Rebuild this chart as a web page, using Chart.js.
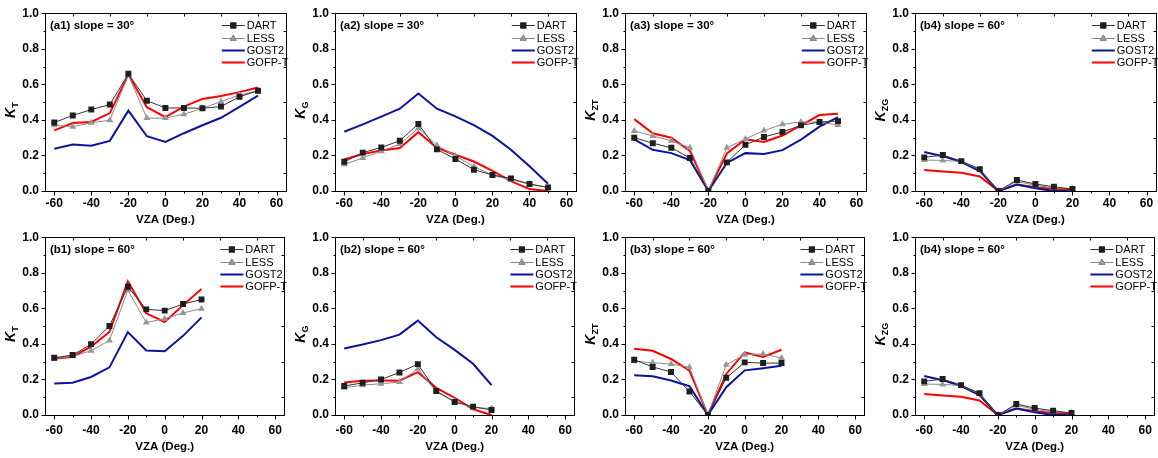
<!DOCTYPE html>
<html>
<head>
<meta charset="utf-8">
<script src="https://cdn.jsdelivr.net/npm/chart.js@4.4.1/dist/chart.umd.min.js"></script>
<style>
    html, body { margin: 0; padding: 0; background: #fff; }
    #wrap { position: relative; width: 1158px; height: 458px; overflow: hidden; }
    #wrap canvas { position: absolute; }
</style>
</head>
<body>
<div id="wrap">
    <canvas id="p1" width="290" height="229" style="left:0px;top:0px"></canvas>
    <canvas id="p2" width="290" height="229" style="left:290px;top:0px"></canvas>
    <canvas id="p3" width="290" height="229" style="left:580px;top:0px"></canvas>
    <canvas id="p4" width="290" height="229" style="left:870px;top:0px"></canvas>
    <canvas id="p5" width="290" height="234" style="left:0px;top:224px"></canvas>
    <canvas id="p6" width="290" height="234" style="left:290px;top:224px"></canvas>
    <canvas id="p7" width="290" height="234" style="left:580px;top:224px"></canvas>
    <canvas id="p8" width="290" height="234" style="left:870px;top:224px"></canvas>
</div>
<script>
// view zenith angles
var vzaTop = [-60, -50, -40, -30, -20, -10, 0, 10, 20, 30, 40, 50];
var vzaBottom = [-60, -50, -40, -30, -20, -10, 0, 10, 20];

var xTicks = [-60, -40, -20, 0, 20, 40, 60];
var yTicks = [0, 0.2, 0.4, 0.6, 0.8, 1.0];

var seriesNames = ["DART", "LESS", "GOST2", "GOFP-T"];

// (a1) K_T, slope 30
var a1Dart = [0.385, 0.425, 0.458, 0.486, 0.659, 0.508, 0.467, 0.467, 0.465, 0.475, 0.530, 0.564];
var a1Less = [0.370, 0.362, 0.384, 0.398, 0.652, 0.410, 0.410, 0.432, 0.465, 0.503, 0.540, 0.564];
var a1Gost = [0.238, 0.262, 0.254, 0.282, 0.452, 0.308, 0.276, 0.325, 0.370, 0.412, 0.473, 0.536];
var a1Gofp = [0.341, 0.382, 0.388, 0.438, 0.655, 0.471, 0.416, 0.475, 0.518, 0.534, 0.556, 0.582];

// (a2) K_G, slope 30
var a2Dart = [0.164, 0.216, 0.245, 0.283, 0.377, 0.234, 0.180, 0.120, 0.090, 0.071, 0.039, 0.020];
var a2Less = [0.150, 0.186, 0.223, 0.264, 0.353, 0.258, 0.197, 0.138, 0.089, 0.063, 0.039, 0.020];
var a2Gost = [0.333, 0.375, 0.418, 0.463, 0.548, 0.463, 0.420, 0.370, 0.310, 0.232, 0.139, 0.041];
var a2Gofp = [0.177, 0.208, 0.228, 0.242, 0.331, 0.242, 0.204, 0.166, 0.113, 0.056, 0.011, 0.000];

// (a3) K_ZT, slope 30
var a3Dart = [0.300, 0.269, 0.243, 0.186, 0.000, 0.161, 0.260, 0.304, 0.332, 0.369, 0.388, 0.393];
var a3Less = [0.338, 0.310, 0.282, 0.243, 0.000, 0.243, 0.293, 0.340, 0.375, 0.388, 0.388, 0.371];
var a3Gost = [0.291, 0.232, 0.213, 0.174, 0.000, 0.158, 0.213, 0.208, 0.230, 0.289, 0.362, 0.416];
var a3Gofp = [0.404, 0.325, 0.300, 0.226, 0.000, 0.211, 0.291, 0.276, 0.312, 0.369, 0.427, 0.434];

// (b1) K_T, slope 60
var b1Dart = [0.322, 0.337, 0.398, 0.501, 0.721, 0.594, 0.587, 0.624, 0.650];
var b1Less = [0.317, 0.330, 0.361, 0.419, 0.702, 0.520, 0.542, 0.574, 0.598];
var b1Gost = [0.177, 0.182, 0.214, 0.268, 0.466, 0.363, 0.358, 0.445, 0.549];
var b1Gofp = [0.317, 0.328, 0.385, 0.467, 0.752, 0.572, 0.523, 0.618, 0.709];

// (b2) K_G, slope 60
var b2Dart = [0.163, 0.181, 0.200, 0.239, 0.286, 0.135, 0.073, 0.047, 0.028];
var b2Less = [0.153, 0.168, 0.176, 0.185, 0.260, 0.129, 0.077, 0.041, 0.037];
var b2Gost = [0.374, 0.396, 0.421, 0.452, 0.531, 0.437, 0.366, 0.288, 0.168];
var b2Gofp = [0.183, 0.193, 0.194, 0.193, 0.241, 0.153, 0.097, 0.032, 0.000];

// (b3) K_ZT, slope 60
var b3Dart = [0.311, 0.270, 0.242, 0.132, 0.000, 0.209, 0.296, 0.292, 0.292];
var b3Less = [0.302, 0.294, 0.287, 0.268, 0.000, 0.283, 0.339, 0.343, 0.320];
var b3Gost = [0.223, 0.218, 0.194, 0.162, 0.000, 0.156, 0.251, 0.263, 0.277];
var b3Gofp = [0.372, 0.361, 0.315, 0.250, 0.000, 0.231, 0.352, 0.326, 0.367];

// (b4) K_ZG, slope 60 (shown twice in the figure)
var b4Dart = [0.189, 0.202, 0.168, 0.123, 0.000, 0.062, 0.039, 0.024, 0.011];
var b4Less = [0.174, 0.172, 0.166, 0.120, 0.000, 0.054, 0.032, 0.017, 0.013];
var b4Gost = [0.219, 0.196, 0.163, 0.112, 0.000, 0.036, 0.015, 0.000, 0.000];
var b4Gofp = [0.118, 0.110, 0.103, 0.082, 0.000, 0.037, 0.021, 0.011, 0.011];

var FONT = '"Liberation Sans", Arial, Helvetica, sans-serif';

var styles = [
    { line: "#333333", marker: "#1e1e1e", width: 1, point: "rect", radius: 4.2 },
    { line: "#8a8a8a", marker: "#979797", width: 1, point: "triangle", radius: 4 },
    { line: "#0a14a0", marker: "#0a14a0", width: 2, point: false, radius: 0 },
    { line: "#ff0000", marker: "#ff0000", width: 2, point: false, radius: 0 },
];

function toPoints(xs, ys) {
    return xs.map(function (x, i) {
        return { x: x, y: ys[i] };
    });
}

function panelPlugin(title, sub, shift) {
    return {
        id: "panel",
        afterDraw: function (chart) {
            var ctx = chart.ctx;
            var a = chart.chartArea;
            var xs = chart.scales.x;
            var ys = chart.scales.y;
            var L = Math.round(a.left) + 0.5;
            var R = Math.round(a.right) + 0.5;
            var T = Math.round(a.top) + 0.5;
            var B = Math.round(a.bottom) + 0.5;
            ctx.save();
            ctx.strokeStyle = "#000";
            ctx.lineWidth = 1;
            ctx.strokeRect(L, T, R - L, B - T);

            // ticks: major/minor out on left and bottom, minor in on right and top
            ctx.beginPath();
            for (var v = 0; v <= 10; v++) {
                var py = Math.round(ys.getPixelForValue(v / 10)) + 0.5;
                var major = v % 2 === 0;
                ctx.moveTo(L, py);
                ctx.lineTo(L - (major ? 4 : 2), py);
                if (!major) {
                    ctx.moveTo(R, py);
                    ctx.lineTo(R - 3, py);
                }
            }
            for (var u = -60; u <= 60; u += 10) {
                var px = Math.round(xs.getPixelForValue(u)) + 0.5;
                var maj = u % 20 === 0;
                ctx.moveTo(px, B);
                ctx.lineTo(px, B + (maj ? 4 : 2));
                if (!maj) {
                    ctx.moveTo(px, T);
                    ctx.lineTo(px, T + 3);
                }
            }
            ctx.stroke();

            // panel title
            ctx.fillStyle = "#000";
            ctx.textBaseline = "middle";
            ctx.textAlign = "left";
            ctx.font = "bold 11.5px " + FONT;
            ctx.fillText(title, a.left + 5, a.top + 13);

            // x title
            ctx.textAlign = "center";
            ctx.font = "bold 11.5px " + FONT;
            ctx.fillText("VZA (Deg.)", (a.left + a.right) / 2, 220 + shift);

            // y title: K with subscript
            ctx.save();
            ctx.translate(15, (a.top + a.bottom) / 2 + 8);
            ctx.rotate(-Math.PI / 2);
            ctx.textAlign = "left";
            ctx.textBaseline = "alphabetic";
            ctx.font = "italic bold 14px " + FONT;
            var kw = ctx.measureText("K").width;
            ctx.font = "bold 9px " + FONT;
            var sw = ctx.measureText(sub).width;
            var sx = -(kw + sw) / 2;
            ctx.font = "italic bold 14px " + FONT;
            ctx.fillText("K", sx, 0);
            ctx.font = "bold 9px " + FONT;
            ctx.fillText(sub, sx + kw, 3);
            ctx.restore();

            // legend
            ctx.font = "11px " + FONT;
            ctx.textAlign = "left";
            ctx.textBaseline = "middle";
            var lx0 = a.right - 64;
            var lx1 = a.right - 41;
            for (var i = 0; i < seriesNames.length; i++) {
                var st = styles[i];
                var ly = Math.round(a.top + 12 + i * 12.4) + 0.5;
                ctx.strokeStyle = st.line;
                ctx.lineWidth = st.width;
                ctx.beginPath();
                ctx.moveTo(lx0, ly);
                ctx.lineTo(lx1, ly);
                ctx.stroke();
                if (st.point) {
                    Chart.helpers.drawPoint(ctx, {
                        pointStyle: st.point,
                        radius: st.radius,
                        borderWidth: 0,
                        rotation: 0,
                    }, (lx0 + lx1) / 2, ly);
                    ctx.fillStyle = st.marker;
                    ctx.fill();
                }
                ctx.fillStyle = "#000";
                ctx.fillText(seriesNames[i], lx1 + 2, ly);
            }
            ctx.restore();
        },
    };
}

function makePanel(id, title, sub, xs, series, shift) {
    var canvas = document.getElementById(id);
    var ctx = canvas.getContext("2d");
    var datasets = series.map(function (ys, i) {
        var st = styles[i];
        return {
            label: seriesNames[i],
            data: toPoints(xs, ys),
            borderColor: st.line,
            borderWidth: st.width,
            backgroundColor: st.marker,
            pointStyle: st.point || "circle",
            pointRadius: st.radius,
            pointBorderWidth: 0,
            pointBackgroundColor: st.marker,
            tension: 0,
            fill: false,
        };
    });

    new Chart(ctx, {
        type: "line",
        data: { datasets: datasets },
        options: {
            responsive: false,
            animation: false,
            events: [],
            layout: { padding: { top: 11, right: 3, left: 0, bottom: 0 } },
            plugins: {
                legend: { display: false },
                tooltip: { enabled: false },
            },
            scales: {
                x: {
                    type: "linear",
                    min: -65,
                    max: 65,
                    grid: { display: false, drawTicks: false },
                    border: { display: false },
                    afterBuildTicks: function (axis) {
                        axis.ticks = xTicks.map(function (v) { return { value: v }; });
                    },
                    afterFit: function (axis) {
                        axis.height = canvas.height - 191;
                    },
                    ticks: {
                        autoSkip: false,
                        maxRotation: 0,
                        padding: 5 + shift,
                        color: "#000",
                        font: { family: FONT, size: 12, weight: "bold" },
                        callback: function (v) { return String(v); },
                    },
                },
                y: {
                    min: 0,
                    max: 1,
                    grid: { display: false, drawTicks: false },
                    border: { display: false },
                    afterBuildTicks: function (axis) {
                        axis.ticks = yTicks.map(function (v) { return { value: v }; });
                    },
                    afterFit: function (axis) {
                        axis.width = 45;
                    },
                    ticks: {
                        autoSkip: false,
                        padding: 6,
                        color: "#000",
                        font: { family: FONT, size: 12, weight: "bold" },
                        callback: function (v) { return v.toFixed(1); },
                    },
                },
            },
        },
        plugins: [panelPlugin(title, sub, shift)],
    });
}

makePanel("p1", "(a1) slope = 30°", "T", vzaTop, [a1Dart, a1Less, a1Gost, a1Gofp], 0);
makePanel("p2", "(a2) slope = 30°", "G", vzaTop, [a2Dart, a2Less, a2Gost, a2Gofp], 0);
makePanel("p3", "(a3) slope = 30°", "ZT", vzaTop, [a3Dart, a3Less, a3Gost, a3Gofp], 0);
makePanel("p4", "(b4) slope = 60°", "ZG", vzaBottom, [b4Dart, b4Less, b4Gost, b4Gofp], 0);
makePanel("p5", "(b1) slope = 60°", "T", vzaBottom, [b1Dart, b1Less, b1Gost, b1Gofp], 3);
makePanel("p6", "(b2) slope = 60°", "G", vzaBottom, [b2Dart, b2Less, b2Gost, b2Gofp], 3);
makePanel("p7", "(b3) slope = 60°", "ZT", vzaBottom, [b3Dart, b3Less, b3Gost, b3Gofp], 3);
makePanel("p8", "(b4) slope = 60°", "ZG", vzaBottom, [b4Dart, b4Less, b4Gost, b4Gofp], 3);
</script>
</body>
</html>
